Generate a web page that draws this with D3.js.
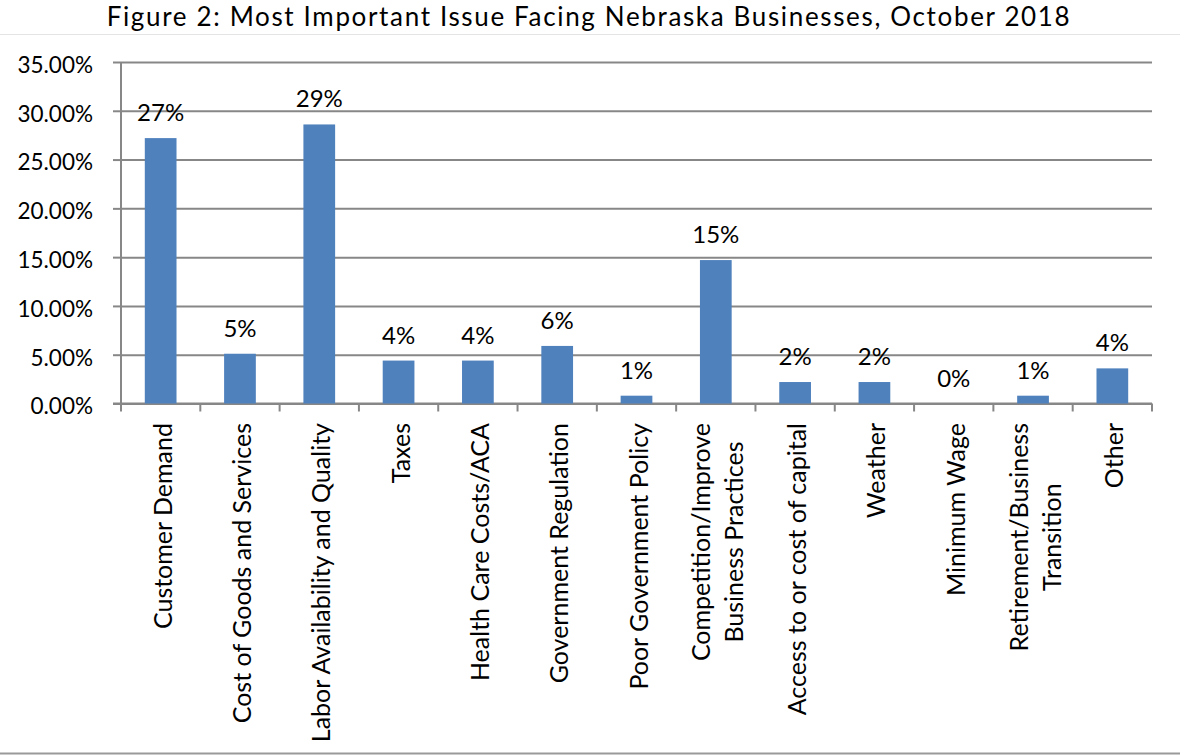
<!DOCTYPE html>
<html>
<head>
<meta charset="utf-8">
<script src="https://cdn.jsdelivr.net/npm/d3@7/dist/d3.min.js"></script>
<style>
  body { margin: 0; background: #fff; }
  svg { display: block; }
  text { font-family: Lato, "Liberation Sans", sans-serif; fill: #000; }
</style>
</head>
<body>
<script>
// chart size
const width = 1180
const height = 755

// data (percent of respondents)
const title = "Figure 2: Most Important Issue Facing Nebraska Businesses, October 2018"
const categories = [
  "Customer Demand",
  "Cost of Goods and Services",
  "Labor Availability and Quality",
  "Taxes",
  "Health Care Costs/ACA",
  "Government Regulation",
  "Poor Government Policy",
  "Competition/Improve\nBusiness Practices",
  "Access to or cost of capital",
  "Weather",
  "Minimum Wage",
  "Retirement/Business\nTransition",
  "Other"
]
const values = [27.2, 5.1, 28.6, 4.4, 4.4, 5.9, 0.8, 14.7, 2.2, 2.2, 0, 0.8, 3.6]
const yTicks = [0, 5, 10, 15, 20, 25, 30, 35]

// plot area
const plotLeft = 121, plotRight = 1152, plotTop = 62, plotBottom = 403.5
const gridColor = "#878787"

var svg = d3.select("body")
            .append("svg")
            .attr("width", width)
            .attr("height", height)

// faint rule under the title and frame line at the bottom
svg.append("line")
   .attr("x1", 0).attr("x2", width)
   .attr("y1", 34.5).attr("y2", 34.5)
   .attr("stroke", "#e4e4e4")
svg.append("line")
   .attr("x1", 0).attr("x2", width)
   .attr("y1", 753.5).attr("y2", 753.5)
   .attr("stroke", "#9a9a9a")
   .attr("stroke-width", 2)

// title, spread out to the width it has in the figure
var titleText = svg.append("text")
   .attr("x", 589)
   .attr("y", 26)
   .attr("text-anchor", "middle")
   .attr("font-size", "26px")
   .text(title)
var tw = titleText.node().getComputedTextLength()
titleText.attr("letter-spacing", ((963 - tw) / (title.length - 1)) + "px")

// scales
var x = d3.scaleBand()
          .domain(categories)
          .range([plotLeft, plotRight])
          .paddingInner(0.6)
          .paddingOuter(0.3)
var y = d3.scaleLinear()
          .domain([0, 35])
          .range([plotBottom, plotTop])

// gridlines
var grid = svg.append("g")
   .attr("transform", "translate(" + plotLeft + ",0)")
   .call(d3.axisLeft(y).tickValues(yTicks).tickSize(-(plotRight - plotLeft)).tickFormat(""))
grid.select(".domain").remove()

// y axis with outward ticks and labels
var yAxis = svg.append("g")
   .attr("transform", "translate(" + plotLeft + ",0)")
   .call(d3.axisLeft(y)
           .tickValues(yTicks)
           .tickSize(8)
           .tickPadding(20)
           .tickFormat(d => d.toFixed(2) + "%"))
yAxis.select(".domain").attr("d", "M0," + plotTop + "V" + plotBottom)
yAxis.selectAll("text")
     .attr("font-size", "22.5px")
     .attr("dy", "0.46em")
yAxis.attr("font-family", null).attr("font-size", null)
svg.selectAll(".tick line, .domain")
   .attr("stroke", gridColor)
   .attr("stroke-width", 2)

// x axis line and boundary tick marks
svg.append("line")
   .attr("x1", plotLeft - 8).attr("x2", plotRight)
   .attr("y1", y(0)).attr("y2", y(0))
   .attr("stroke", gridColor)
   .attr("stroke-width", 2)
svg.append("g")
   .selectAll("line")
   .data(d3.range(categories.length + 1))
   .enter()
   .append("line")
   .attr("x1", d => plotLeft + d * x.step())
   .attr("x2", d => plotLeft + d * x.step())
   .attr("y1", y(0))
   .attr("y2", y(0) + 8)
   .attr("stroke", gridColor)
   .attr("stroke-width", 2)

// bars
svg.append("g")
   .selectAll("rect")
   .data(values)
   .enter()
   .append("rect")
   .attr("x", (d, i) => x(categories[i]))
   .attr("width", x.bandwidth())
   .attr("y", d => y(d))
   .attr("height", d => y(0) - y(d))
   .attr("fill", "#4F81BD")

// value labels
svg.append("g")
   .selectAll("text")
   .data(values)
   .enter()
   .append("text")
   .attr("x", (d, i) => x(categories[i]) + x.bandwidth() / 2)
   .attr("y", d => y(d) - 17)
   .attr("text-anchor", "middle")
   .attr("font-size", "24px")
   .text(d => Math.round(d) + "%")

// rotated category labels, lines centred on the longest one
var cats = svg.append("g")
   .selectAll("g")
   .data(categories)
   .enter()
   .append("g")
   .attr("transform", d => "translate(" + (x(d) + x.bandwidth() / 2) + ",423) rotate(-90)")

cats.each(function(d) {
  var lines = d.split("\n")
  var t = d3.select(this).append("text")
            .attr("text-anchor", "middle")
            .attr("font-size", "25px")
  var spans = lines.map((line, i) =>
    t.append("tspan")
     .attr("y", 11 + (i - (lines.length - 1) / 2) * 33)
     .text(line))
  var longest = d3.max(spans, s => s.node().getComputedTextLength())
  spans.forEach(s => s.attr("x", -longest / 2))
})
</script>
</body>
</html>
